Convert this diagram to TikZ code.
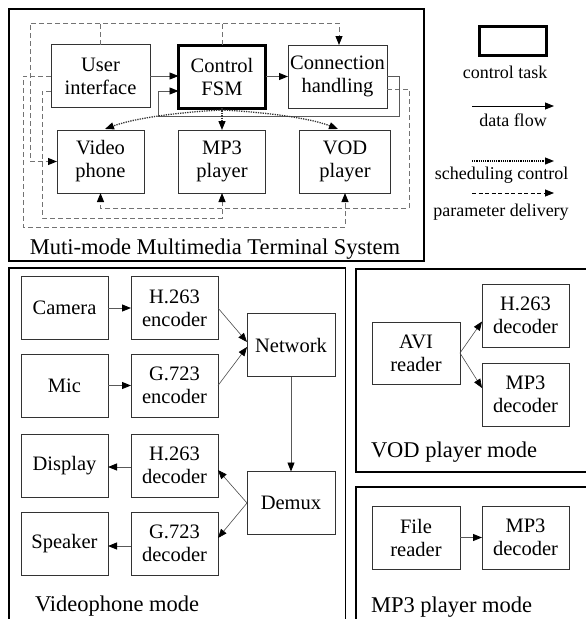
\documentclass[tikz,border=0pt]{standalone}
\usepackage{fontspec}
\setmainfont{Liberation Serif}
\usetikzlibrary{arrows.meta}
\begin{document}
\begin{tikzpicture}[x=1pt,y=-1pt,
  every node/.style={inner sep=0pt, outer sep=0pt},
  task/.style={draw=black!80, line width=0.9pt, minimum width=87pt, minimum height=63pt,
    align=center, font=\fontsize{20.5}{23}\selectfont},
  ctrltask/.style={task, draw=black, line width=3pt},
  panel/.style={draw=black, line width=1.8pt},
  arrowend/.style={-{Triangle[length=9pt,width=7pt,color=black]}},
  flow/.style={arrowend, draw=black!65, line width=0.9pt},
  thinflow/.style={arrowend, draw=black!70, line width=0.6pt},
  sched/.style={arrowend, draw=black!80, line width=1.3pt, dash pattern=on 1.3pt off 1.1pt},
  param/.style={arrowend, draw=black!55, line width=0.9pt, dash pattern=on 5pt off 3pt},
  paneltitle/.style={font=\fontsize{22.5}{25}\selectfont, anchor=base west},
  legendtext/.style={font=\fontsize{18}{20}\selectfont, anchor=base}
]
\useasboundingbox (0,0) rectangle (586,619);
\clip (0,0) rectangle (586,619);

% ---------------- Multi-mode terminal system ----------------
\draw[panel] (9,9) rectangle (424,261);
\node[task, minimum width=99pt] (ui) at (100.5,76) {User\\interface};
\node[ctrltask] (fsm) at (222,76.5) {Control\\FSM};
\node[task, minimum width=99pt] (conn) at (337.5,76.5) {Connection\\handling};
\node[task] (vp) at (100.5,161.5) {Video\\phone};
\node[task] (mp3) at (222,161.5) {MP3\\player};
\node[task, minimum width=91pt] (vod) at (345,161.5) {VOD\\player};

% route points
\coordinate (fbA) at (399,116);
\coordinate (fbB) at (158,116);
\coordinate (fbC) at (158,91);
\coordinate (pA) at (409,89);
\coordinate (pB) at (100.5,208);
\coordinate (topR) at (339,23);
\coordinate (topL) at (30,23);
\coordinate (lA) at (23,227);
\coordinate (lB) at (42,218);
\coordinate (cvL) at (105,129);
\coordinate (cvR) at (338,129);
\coordinate (fsmout) at (222,110);

% parameter delivery
\draw[param] (ui.north) |- (topR) -- (topR |- conn.north);
\draw[param] (fsm.north) |- (topL) |- (vp.west);
\draw[param] (ui.west) -| (lA) -| (vod.south);
\draw[param] (ui.west |- fbC) -| (lB) -| (mp3.south);
\draw[param] (conn.east |- pA) -- (pA) |- (pB) -- (vp.south);

% data flow
\draw[flow] (ui.east) -- (ui.east -| fsm.west);
\draw[flow] (fsm.east) -- (fsm.east -| conn.west);
\draw[flow] (conn.east) -| (fbA) -- (fbB) -- (fbC) -- (fbC -| fsm.west);

% scheduling control
\draw[sched] (fsm.south) -- (mp3.north);
\draw[sched] (fsmout) .. controls (180,112) and (135,118) .. (cvL);
\draw[sched] (fsmout) .. controls (264,112) and (310,118) .. (cvR);

\node[paneltitle, anchor=base] (systitle) at (215,254) {Muti-mode Multimedia Terminal System};

% ---------------- legend ----------------
\node[ctrltask, minimum width=67pt, minimum height=29pt] (lgbox) at (513,41) {};
\node[legendtext] (lgctl) at (505,78) {control task};
\coordinate (dfA) at (472,106);
\coordinate (dfB) at (554,106);
\draw[arrowend, black, line width=0.9pt] (dfA) -- (dfB);
\node[legendtext] (lgdf) at (513,126) {data flow};
\coordinate (scA) at (472,161);
\coordinate (scB) at (554,161);
\draw[arrowend, black, line width=1.1pt, dash pattern=on 1.1pt off 1.1pt] (scA) -- (scB);
\node[legendtext] (lgsc) at (501.5,179.5) {scheduling control};
\coordinate (pdA) at (472,193);
\coordinate (pdB) at (554,193);
\draw[arrowend, black, line width=0.8pt, dash pattern=on 4pt off 2.5pt] (pdA) -- (pdB);
\node[legendtext] (lgpd) at (501,216.5) {parameter delivery};

% ---------------- videophone mode ----------------
\draw[panel] (9,268) rectangle (345.5,640);
\node[task] (cam) at (64.5,308) {Camera};
\node[task] (henc) at (174.5,308) {H.263\\encoder};
\node[task] (mic) at (64.5,385.5) {Mic};
\node[task] (genc) at (174.5,385.5) {G.723\\encoder};
\node[task, minimum width=88pt] (net) at (291,345) {Network};
\node[task] (disp) at (64.5,465.5) {Display};
\node[task] (hdec) at (174.5,465.5) {H.263\\decoder};
\node[task] (spk) at (64.5,543.5) {Speaker};
\node[task] (gdec) at (174.5,543.5) {G.723\\decoder};
\node[task, minimum width=88pt] (demux) at (291,503) {Demux};

\draw[flow] (cam.east) -- (henc.west);
\draw[flow] (mic.east) -- (genc.west);
\draw[thinflow] (henc.east) -- ([yshift=3pt]net.west);
\draw[thinflow] (genc.east) -- ([yshift=-2pt]net.west);
\draw[flow] (net.south) -- (demux.north);
\draw[thinflow] (demux.west) -- ([yshift=-4.5pt]hdec.east);
\draw[thinflow] (demux.west) -- ([yshift=5.5pt]gdec.east);
\draw[flow] ([yshift=-1.5pt]hdec.west) -- ([yshift=-1.5pt]disp.east);
\draw[flow] ([yshift=-2.5pt]gdec.west) -- ([yshift=-2.5pt]spk.east);

\node[paneltitle] (vptitle) at (35,611) {Videophone mode};

% ---------------- VOD player mode ----------------
\draw[panel] (356,269) rectangle (600,472);
\node[task, minimum width=88pt, minimum height=62pt] (avi) at (416,353) {AVI\\reader};
\node[task] (vhdec) at (525.5,315.5) {H.263\\decoder};
\node[task] (vmdec) at (525.5,394.5) {MP3\\decoder};
\draw[thinflow] (avi.east) -- ([yshift=-6pt]vhdec.west);
\draw[thinflow] (avi.east) -- ([yshift=6.5pt]vmdec.west);
\node[paneltitle] (vodtitle) at (371,457) {VOD player mode};

% ---------------- MP3 player mode ----------------
\draw[panel] (356,487) rectangle (600,640);
\node[task, minimum width=88pt] (file) at (416,537.5) {File\\reader};
\node[task] (mdec) at (525.5,537.5) {MP3\\decoder};
\draw[flow] (file.east) -- (mdec.west);
\node[paneltitle] (mp3title) at (371,612) {MP3 player mode};
\end{tikzpicture}
\end{document}
